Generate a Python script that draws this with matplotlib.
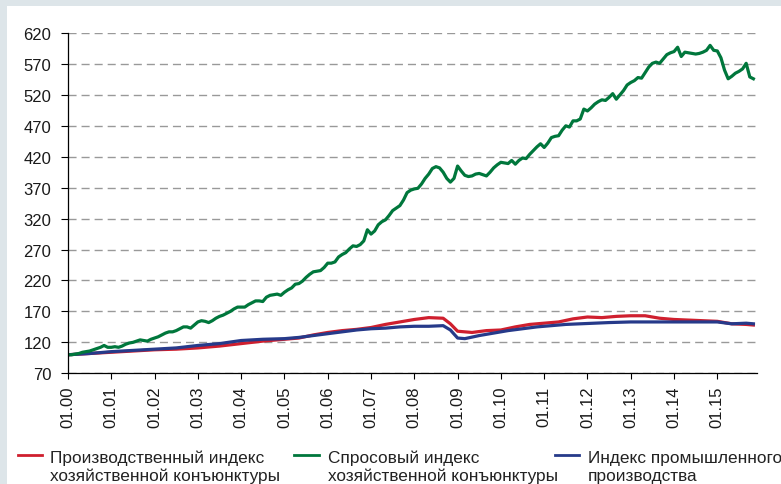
import numpy as np
import matplotlib.pyplot as plt
from matplotlib.lines import Line2D
from matplotlib.patches import Rectangle

plt.rcParams['font.family'] = ['Liberation Sans', 'DejaVu Sans']

# demand index, monthly from 01.2000
demand = [100, 100, 101, 102, 104, 105, 106, 108, 110, 112, 115, 112,
          112, 113, 112, 114, 117, 119, 120, 122, 124, 123, 122, 125,
          127, 129, 132, 135, 137, 137, 139, 142, 145, 145, 143, 148,
          153, 155, 154, 152, 155, 159, 162, 164, 167, 170, 174, 177,
          177, 177, 181, 184, 187, 187, 186, 193, 196, 197, 198, 196,
          201, 205, 208, 214, 215, 219, 225, 230, 234, 235, 236, 241,
          248, 248, 250, 258, 262, 265, 271, 276, 275, 278, 284, 302,
          295, 300, 310, 315, 318, 325, 333, 337, 341, 350, 362, 366,
          368, 369, 376, 385, 392, 401, 404, 402, 395, 385, 379, 385,
          405, 397, 390, 388, 389, 392, 393, 391, 389, 395, 402, 407,
          411, 410, 409, 414, 408, 414, 418, 417, 424, 430, 436, 441,
          435, 442, 451, 453, 454, 463, 470, 468, 478, 478, 481, 497,
          494, 499, 505, 509, 512, 511, 516, 522, 513, 520, 527, 536,
          540, 543, 548, 547, 556, 565, 571, 573, 571, 578, 585, 588,
          590, 597, 582, 589, 588, 587, 586, 587, 589, 592, 600, 592,
          591, 580, 560, 546, 550, 555, 558, 562, 571, 549, 546]
demand_months = list(range(len(demand)))

# production index
prod_months = [0, 6, 12, 18, 24, 30, 36, 42, 48, 54, 60, 64, 68, 72, 76, 80,
               84, 88, 92, 96, 100, 104, 106, 108, 112, 116, 120, 124, 128,
               132, 136, 140, 144, 148, 152, 156, 160, 164, 168, 172, 176,
               180, 184, 188, 190]
prod_vals = [100, 102, 104, 106, 108, 109, 111, 114, 118, 122, 125, 127, 132,
             136, 139, 141, 144, 149, 153, 157, 160, 159, 150, 138, 136, 139,
             140, 145, 149, 151, 153, 158, 161, 160, 162, 163, 163, 159, 157,
             156, 155, 154, 150, 149, 148]

# industrial production index
ind_months = [0, 6, 12, 18, 24, 30, 36, 42, 48, 54, 60, 64, 68, 72, 76, 80,
              84, 88, 92, 96, 100, 104, 106, 108, 110, 114, 118, 122, 126,
              130, 134, 138, 142, 146, 150, 156, 160, 164, 168, 172, 176,
              180, 184, 188, 190]
ind_vals = [100, 102, 105, 107, 109, 111, 115, 118, 123, 125, 126, 128, 131,
            134, 137, 140, 142, 143, 145, 146, 146, 147, 140, 127, 126, 131,
            135, 139, 142, 145, 147, 149, 150, 151, 152, 153, 153, 153, 153,
            153, 153, 153, 150, 151, 150]

tick_pos = [0, 12, 24, 36, 48, 60, 72, 84, 96, 108, 120, 132, 144, 156, 168, 180]
tick_labels = ['01.00', '01.01', '01.02', '01.03', '01.04', '01.05', '01.06',
               '01.07', '01.08', '01.09', '01.10', '01.11', '01.12', '01.13',
               '01.14', '01.15']

series_names = ['Производственный индекс\nхозяйственной конъюнктуры',
                'Спросовый индекс\nхозяйственной конъюнктуры',
                'Индекс промышленного\nпроизводства']
colors = ['#cf1f2e', '#00773c', '#263a8a']

W, H = 781, 485
fig = plt.figure(figsize=(W / 100, H / 100), dpi=100)
fig.patch.set_facecolor('white')
# light frame strips
fig.add_artist(Rectangle((0, 1 - 7 / H), 1, 7 / H, transform=fig.transFigure,
                         color='#dde5e9', lw=0))
fig.add_artist(Rectangle((0, 0), 7 / W, 1, transform=fig.transFigure,
                         color='#dde5e9', lw=0))

ax = fig.add_axes([68 / W, 1 - 374.3 / H, (757 - 68) / W, (374.3 - 34) / H])
ax.plot(prod_months, prod_vals, color=colors[0], lw=2.3)
ax.plot(ind_months, ind_vals, color=colors[2], lw=2.3)
ax.plot(demand_months, demand, color=colors[1], lw=2.3)

ax.set_xlim(0, 191)
ax.set_ylim(70, 620)
ax.set_yticks(np.arange(70, 621, 50))
ax.set_xticks(tick_pos)
ax.set_xticklabels(tick_labels, rotation=90)
ax.tick_params(axis='y', length=5, width=0.8, labelsize=12, pad=7,
               labelcolor='#1a1a1a')
ax.tick_params(axis='x', length=4, width=0.8, labelsize=12, pad=5,
               labelcolor='#1a1a1a')
ax.yaxis.grid(True, color='#999999', lw=1.0, linestyle=(0, (5.8, 3.6)))
ax.set_axisbelow(True)
for s in ['top', 'right']:
    ax.spines[s].set_visible(False)
for s in ['left', 'bottom']:
    ax.spines[s].set_linewidth(0.9)

# legend below the chart
leg_x = [(18, 42, 50), (294, 319, 328), (555, 579, 588)]
for (x0, x1, xt), name, c in zip(leg_x, series_names, [colors[0], colors[1], colors[2]]):
    fig.add_artist(Line2D([x0 / W, x1 / W], [1 - 456 / H, 1 - 456 / H],
                          transform=fig.transFigure, color=c, lw=2))
    l1, l2 = name.split('\n')
    fig.text(xt / W, 1 - 463 / H, l1, fontsize=12.4, va='baseline', color='#222222')
    fig.text(xt / W, 1 - 481 / H, l2, fontsize=12.4, va='baseline', color='#222222')

fig.savefig('out.png', dpi=100)
